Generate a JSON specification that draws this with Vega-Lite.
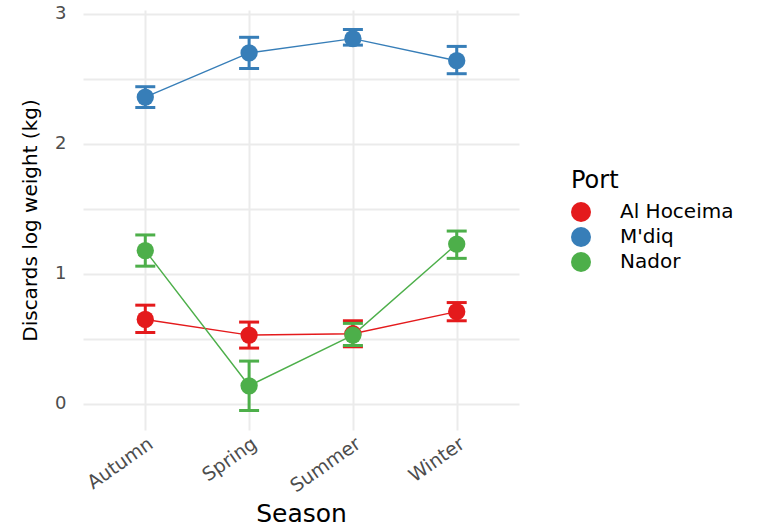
{
  "$schema": "https://vega.github.io/schema/vega-lite/v6.json",
  "width": 436,
  "height": 420,
  "autosize": {"type": "none"},
  "padding": {"left": 83, "top": 10, "right": 242, "bottom": 97},
  "background": "white",
  "config": {
    "view": {"stroke": null},
    "font": "DejaVu Sans",
    "axis": {
      "domain": false,
      "ticks": false,
      "gridColor": "#EBEBEB",
      "gridWidth": 2,
      "labelColor": "#4D4D4D",
      "titleColor": "#000000",
      "titleFontWeight": "normal",
      "labelFont": "DejaVu Sans",
      "titleFont": "DejaVu Sans"
    },
    "legend": {
      "titleFontWeight": "normal",
      "titleColor": "#000000",
      "labelColor": "#000000"
    }
  },
  "data": {
    "values": [
      {"Port": "Al Hoceima", "Season": "Autumn", "mean": 0.65, "lo": 0.55, "hi": 0.76},
      {"Port": "Al Hoceima", "Season": "Spring", "mean": 0.53, "lo": 0.43, "hi": 0.63},
      {"Port": "Al Hoceima", "Season": "Summer", "mean": 0.54, "lo": 0.44, "hi": 0.64},
      {"Port": "Al Hoceima", "Season": "Winter", "mean": 0.71, "lo": 0.64, "hi": 0.78},
      {"Port": "M'diq", "Season": "Autumn", "mean": 2.36, "lo": 2.28, "hi": 2.44},
      {"Port": "M'diq", "Season": "Spring", "mean": 2.70, "lo": 2.58, "hi": 2.82},
      {"Port": "M'diq", "Season": "Summer", "mean": 2.81, "lo": 2.76, "hi": 2.88},
      {"Port": "M'diq", "Season": "Winter", "mean": 2.64, "lo": 2.54, "hi": 2.75},
      {"Port": "Nador", "Season": "Autumn", "mean": 1.18, "lo": 1.06, "hi": 1.30},
      {"Port": "Nador", "Season": "Spring", "mean": 0.14, "lo": -0.05, "hi": 0.33},
      {"Port": "Nador", "Season": "Summer", "mean": 0.53, "lo": 0.45, "hi": 0.62},
      {"Port": "Nador", "Season": "Winter", "mean": 1.23, "lo": 1.12, "hi": 1.33}
    ]
  },
  "encoding": {
    "x": {
      "field": "Season",
      "type": "nominal",
      "sort": ["Autumn", "Spring", "Summer", "Winter"],
      "scale": {"type": "point", "padding": 0.6},
      "axis": {
        "title": "Season",
        "titleFontSize": 25,
        "titlePadding": 6,
        "labelFontSize": 19,
        "labelAngle": -35,
        "labelAlign": "right",
        "labelBaseline": "top",
        "labelPadding": 4,
        "grid": true
      }
    },
    "color": {
      "field": "Port",
      "type": "nominal",
      "scale": {
        "domain": ["Al Hoceima", "M'diq", "Nador"],
        "range": ["#E41A1C", "#377EB8", "#4DAF4A"]
      },
      "legend": {
        "title": "Port",
        "orient": "none",
        "legendX": 488,
        "legendY": 159,
        "titleFontSize": 24,
        "titlePadding": 9,
        "labelFontSize": 20,
        "symbolType": "circle",
        "symbolSize": 400,
        "symbolStrokeWidth": 0,
        "symbolOpacity": 1,
        "rowPadding": 5,
        "labelOffset": 29
      }
    }
  },
  "layer": [
    {
      "mark": {"type": "line", "strokeWidth": 1.4},
      "encoding": {
        "y": {
          "field": "mean",
          "type": "quantitative",
          "scale": {"domain": [-0.2, 3.03], "nice": false, "zero": false},
          "axis": {
            "title": "Discards log weight (kg)",
            "titleFontSize": 20,
            "titlePadding": 14,
            "labelFontSize": 18,
            "labelPadding": 17,
            "values": [0, 0.5, 1, 1.5, 2, 2.5, 3],
            "labelExpr": "datum.value % 1 === 0 ? format(datum.value, 'd') : ''"
          }
        }
      }
    },
    {
      "mark": {"type": "rule", "strokeWidth": 3},
      "encoding": {
        "y": {"field": "lo", "type": "quantitative"},
        "y2": {"field": "hi"}
      }
    },
    {
      "mark": {"type": "tick", "thickness": 3, "size": 20, "opacity": 1},
      "encoding": {"y": {"field": "lo", "type": "quantitative"}}
    },
    {
      "mark": {"type": "tick", "thickness": 3, "size": 20, "opacity": 1},
      "encoding": {"y": {"field": "hi", "type": "quantitative"}}
    },
    {
      "mark": {"type": "circle", "size": 300, "opacity": 1},
      "encoding": {"y": {"field": "mean", "type": "quantitative"}}
    }
  ]
}
